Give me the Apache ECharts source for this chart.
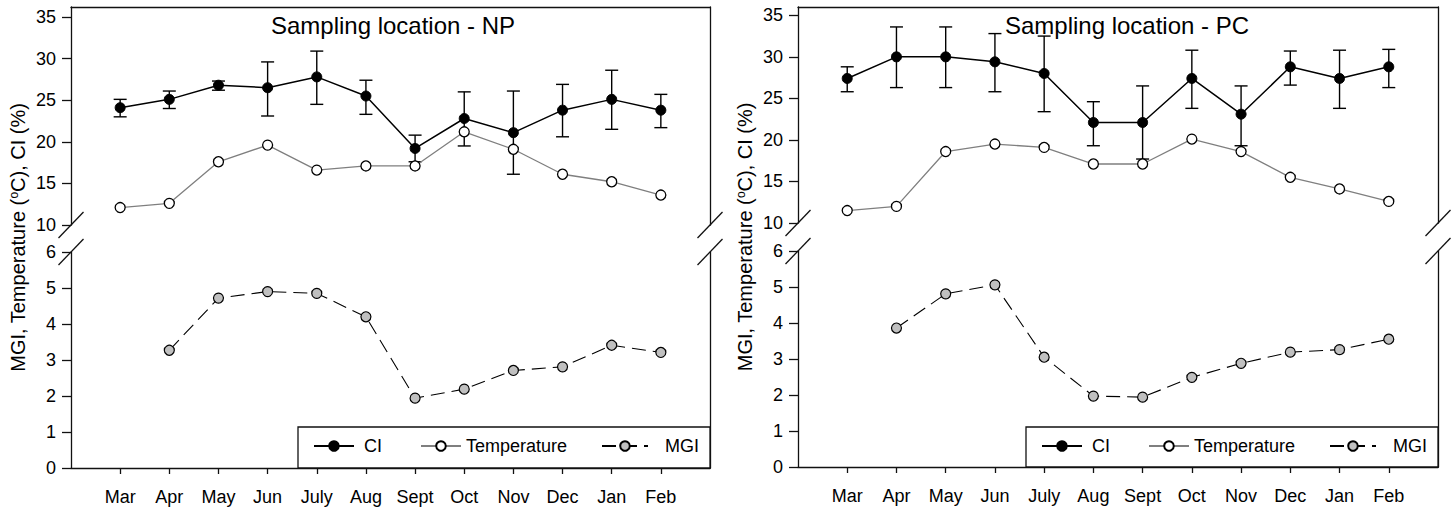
<!DOCTYPE html>
<html><head><meta charset="utf-8">
<script src="https://cdn.jsdelivr.net/npm/echarts@6/dist/echarts.min.js"></script>
<style>html,body{margin:0;padding:0;background:#fff}#c{width:1455px;height:512px}</style>
</head><body><div id="c"></div>
<script>
const months = ['Mar','Apr','May','Jun','July','Aug','Sept','Oct','Nov','Dec','Jan','Feb'];
const upperTicks = [10,15,20,25,30,35];
const lowerTicks = [0,1,2,3,4,5,6];
const monthPos = [1,2,3,4,5,6,7,8,9,10,11,12];
const seriesNames = ['CI','Temperature','MGI'];

const npCI     = [24.1,25.1,26.8,26.5,27.8,25.5,19.2,22.8,21.1,23.8,25.1,23.8];
const npCILow  = [23.0,24.0,26.2,23.1,24.5,23.3,17.6,19.5,16.1,20.6,21.5,21.7];
const npCIHigh = [25.1,26.1,27.3,29.6,30.9,27.4,20.8,26.0,26.1,26.9,28.6,25.7];
const npTemp   = [12.1,12.6,17.6,19.6,16.6,17.1,17.1,21.2,19.1,16.1,15.2,13.6];
const npMGI    = [null,3.27,4.72,4.90,4.85,4.20,1.94,2.19,2.71,2.81,3.41,3.21];

const pcCI     = [27.4,30.0,30.0,29.4,28.0,22.1,22.1,27.4,23.1,28.8,27.4,28.8];
const pcCILow  = [25.8,26.3,26.3,25.8,23.4,19.3,17.7,23.8,19.3,26.6,23.8,26.3];
const pcCIHigh = [28.8,33.6,33.6,32.8,32.5,24.6,26.5,30.8,26.5,30.7,30.8,30.9];
const pcTemp   = [11.5,12.0,18.6,19.5,19.1,17.1,17.1,20.1,18.6,15.5,14.1,12.6];
const pcMGI    = [null,3.86,4.81,5.06,3.05,1.97,1.94,2.49,2.88,3.19,3.26,3.55];

const FONT = '"Liberation Sans", Arial, Helvetica, sans-serif';
const AX = {color:'#111', width:1.3};

const panels = [
  {title:'Sampling location - NP', ci:npCI, lo:npCILow, hi:npCIHigh, temp:npTemp, mgi:npMGI,
   left:71, width:639, upTop:7, upH:218, upMax:36.2, loTop:252, loH:216, titleX:393, yTitleX:18, boxLeft:298},
  {title:'Sampling location - PC', ci:pcCI, lo:pcCILow, hi:pcCIHigh, temp:pcTemp, mgi:pcMGI,
   left:798, width:640, upTop:7, upH:216, upMax:36.0, loTop:251, loH:216, titleX:1127, yTitleX:745, boxLeft:1026}
];

const chart = echarts.init(document.getElementById('c'), null, {renderer:'svg'});
const grid = [], xAxis = [], yAxis = [], series = [], legend = [];

panels.forEach((P, p) => {
  grid.push({left:P.left, top:P.upTop, width:P.width, height:P.upH});
  grid.push({left:P.left, top:P.loTop, width:P.width, height:P.loH});
  xAxis.push({gridIndex:2*p, type:'value', min:0, max:13, position:'top',
    axisLine:{show:true, onZero:false, lineStyle:AX}, axisTick:{show:false}, axisLabel:{show:false}, splitLine:{show:false}});
  xAxis.push({gridIndex:2*p+1, type:'value', min:0, max:13, position:'bottom',
    axisLine:{show:true, onZero:false, lineStyle:AX},
    axisTick:{show:true, length:6, customValues:monthPos, lineStyle:AX},
    axisLabel:{show:true, customValues:monthPos, formatter:v => months[v-1], fontSize:18, margin:20, color:'#000', fontFamily:FONT},
    splitLine:{show:false}});
  yAxis.push({gridIndex:2*p, type:'value', min:10, max:P.upMax, position:'left',
    axisLine:{show:true, onZero:false, lineStyle:AX},
    axisTick:{show:true, length:9, customValues:upperTicks, lineStyle:AX},
    axisLabel:{show:true, customValues:upperTicks, fontSize:18, margin:15, color:'#000', fontFamily:FONT},
    splitLine:{show:false}});
  yAxis.push({gridIndex:2*p, type:'value', min:10, max:P.upMax, position:'right',
    axisLine:{show:true, onZero:false, lineStyle:AX}, axisTick:{show:false}, axisLabel:{show:false}, splitLine:{show:false}});
  yAxis.push({gridIndex:2*p+1, type:'value', min:0, max:6, interval:1, position:'left',
    axisLine:{show:true, onZero:false, lineStyle:AX},
    axisTick:{show:true, length:9, customValues:lowerTicks, lineStyle:AX},
    axisLabel:{show:true, customValues:lowerTicks, fontSize:18, margin:15, color:'#000', fontFamily:FONT},
    splitLine:{show:false}});
  yAxis.push({gridIndex:2*p+1, type:'value', min:0, max:6, position:'right',
    axisLine:{show:true, onZero:false, lineStyle:AX}, axisTick:{show:false}, axisLabel:{show:false}, splitLine:{show:false}});

  const ux = 2*p, lx = 2*p+1, uy = 4*p, ly = 4*p+2;
  series.push({type:'custom', name:'CI error', xAxisIndex:ux, yAxisIndex:uy, z:1,
    data: months.map((m,i)=>[monthPos[i], P.lo[i], P.hi[i]]),
    encode:{x:0, y:[1,2]},
    renderItem:(params, api) => {
      const x = api.value(0);
      const a = api.coord([x, api.value(1)]), b = api.coord([x, api.value(2)]);
      const w = 6.5, st = {stroke:'#000', lineWidth:1.4};
      return {type:'group', children:[
        {type:'line', shape:{x1:a[0], y1:a[1], x2:b[0], y2:b[1]}, style:st},
        {type:'line', shape:{x1:a[0]-w, y1:a[1], x2:a[0]+w, y2:a[1]}, style:st},
        {type:'line', shape:{x1:b[0]-w, y1:b[1], x2:b[0]+w, y2:b[1]}, style:st}
      ]};
    }});
  series.push({type:'line', name:'Temperature', xAxisIndex:ux, yAxisIndex:uy, z:3,
    data: months.map((m,i)=>[monthPos[i], P.temp[i]]),
    symbol:'circle', symbolSize:10,
    itemStyle:{color:'#fff', borderColor:'#000', borderWidth:1.3},
    lineStyle:{color:'#7f7f7f', width:1.3}});
  series.push({type:'line', name:'CI', xAxisIndex:ux, yAxisIndex:uy, z:4,
    data: months.map((m,i)=>[monthPos[i], P.ci[i]]),
    symbol:'circle', symbolSize:10,
    itemStyle:{color:'#000', borderColor:'#000', borderWidth:1},
    lineStyle:{color:'#000', width:1.5}});
  series.push({type:'line', name:'MGI', xAxisIndex:lx, yAxisIndex:ly, z:3,
    data: months.map((m,i)=>[monthPos[i], P.mgi[i]]),
    symbol:'circle', symbolSize:10,
    itemStyle:{color:'#c0c0c0', borderColor:'#000', borderWidth:1.2},
    lineStyle:{color:'#000', width:1.1, type:[14,7]}});

  const offs = [15, 122, 303], iw = [40, 40, 46], pads = [5, 0, 12];
  seriesNames.forEach((n, k) => {
    legend.push({data:[n], left:P.boxLeft + offs[k], top:437, itemWidth:iw[k], itemHeight:12,
      selectedMode:false, padding:0, z:10,
      textStyle:{fontSize:18, color:'#000', fontFamily:FONT, padding:[0,0,0,pads[k]]}});
  });
});

chart.setOption({animation:false, backgroundColor:'#fff', textStyle:{fontFamily:FONT},
  grid, xAxis, yAxis, series, legend});

const graphic = [];
panels.forEach((P, p) => {
  const y10 = chart.convertToPixel({yAxisIndex:4*p}, 10);
  const y6 = chart.convertToPixel({yAxisIndex:4*p+2}, 6);
  const y0 = chart.convertToPixel({yAxisIndex:4*p+2}, 0);
  const xl = chart.convertToPixel({xAxisIndex:2*p+1}, 0);
  const xr = chart.convertToPixel({xAxisIndex:2*p+1}, 13);
  [xl, xr].forEach(x => [y10, y6].forEach(y => {
    graphic.push({type:'line', z:20, shape:{x1:x-12.5, y1:y+13, x2:x+12.5, y2:y-13},
      style:{stroke:'#111', lineWidth:1.3}});
  }));
  graphic.push({type:'rect', z:5, shape:{x:P.boxLeft, y:427, width:xr-P.boxLeft, height:y0-427},
    style:{fill:'#fff', stroke:'#111', lineWidth:1.3}});
  graphic.push({type:'text', z:20, x:P.titleX, y:25,
    style:{text:P.title, fontSize:24, fontFamily:FONT, fill:'#000', align:'center', verticalAlign:'middle'}});
  graphic.push({type:'text', z:20, x:P.yTitleX, y:(P.upTop + y0)/2, rotation:Math.PI/2,
    style:{text:'MGI, Temperature ({sup|o}C), CI (%)', fontSize:20, fontFamily:FONT, fill:'#000',
      align:'center', verticalAlign:'middle',
      rich:{sup:{fontSize:12, fontFamily:FONT, fill:'#000', padding:[0,0,9,0]}}}});
});
chart.setOption({graphic});
</script></body></html>
